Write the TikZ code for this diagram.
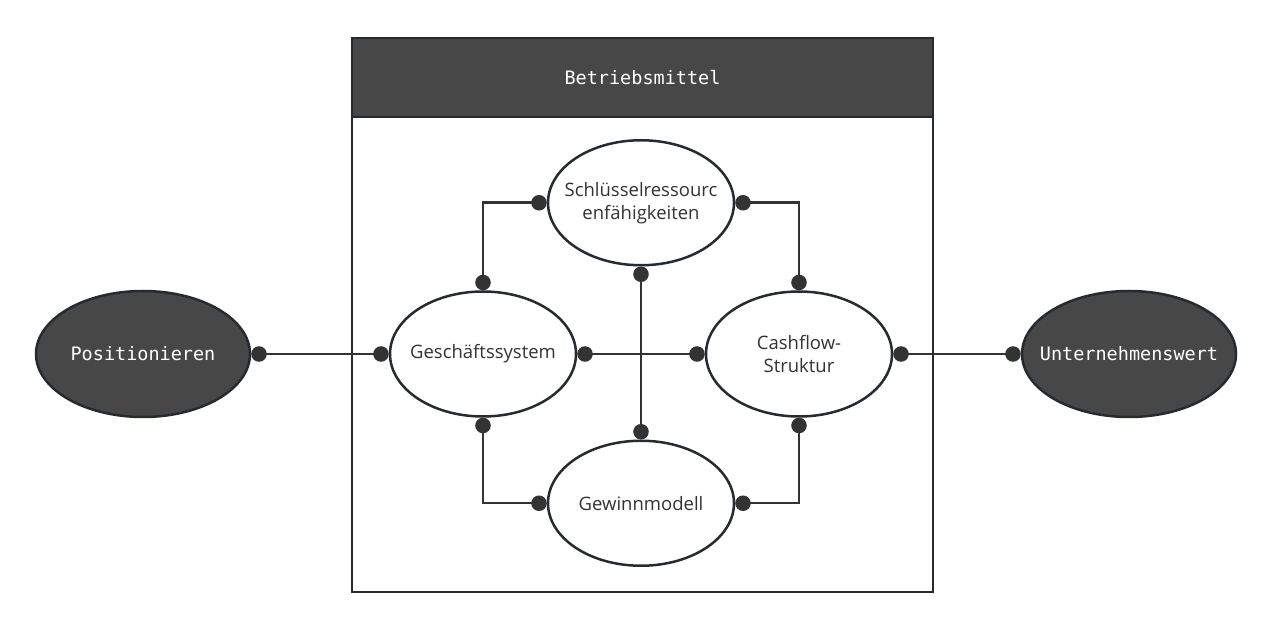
\documentclass[tikz,border=0pt]{standalone}
\usepackage{fontspec}
\setmainfont{Open Sans}
\setmonofont{DejaVu Sans Mono}
\usetikzlibrary{shapes.geometric, arrows.meta, positioning, calc}
\definecolor{nodedark}{HTML}{474747}
\definecolor{framegray}{HTML}{262B30}
\definecolor{edgeline}{HTML}{333333}
\tikzset{
    bubble/.style={ellipse, draw=framegray, line width=2.5pt, fill=white, align=center, inner xsep=-14pt, inner ysep=0pt, font=\fontsize{18.5}{23}\selectfont, text=black!80, minimum width=186pt, minimum height=125pt},
    darkbubble/.style={bubble, fill=nodedark, text=white, font=\ttfamily\fontsize{18.5}{20}\selectfont, minimum width=214pt, minimum height=126pt},
    link/.style={{Circle[length=15.5pt]}-{Circle[length=15.5pt]}, line width=2.5pt, draw=edgeline},
    frame/.style={draw=framegray, line width=2.5pt, fill=white, minimum width=581pt, minimum height=554pt, inner sep=0pt}
}

\begin{document}
\begin{tikzpicture}[
          x=1pt, y=1pt,
          node distance=127.5pt,
          header/.style={frame, fill=nodedark, minimum height=79pt, text=white, font=\ttfamily\fontsize{18.5}{20}\selectfont}
        ]
        \useasboundingbox (0,0) rectangle (1273,629);

        % container with its title bar
        \node[frame] (box) at (642.5,314) {};
        \node[header, anchor=north] (title) at (box.north) {Betriebsmittel};

        % main row
        \node[darkbubble] (pos) at (143,275) {Positionieren};
        \node[bubble, right=137.5pt of pos] (gs) {Geschäftssystem};
        \node[bubble, right=of gs] (cf) {Cashflow-\\Struktur};
        \node[darkbubble, right=of cf] (uw) {Unternehmenswert};

        % upper and lower bubbles
        \coordinate (mid) at ($(gs)!0.5!(cf)$);
        \node[bubble, above=87.5pt of mid] (sr) {Schlüsselressourc\\enfähigkeiten};
        \node[bubble, below=85.5pt of mid] (gm) {Gewinnmodell};

        \draw[link] (pos) -- (gs);
        \draw[link] (gs) -- (cf);
        \draw[link] (cf) -- (uw);
        \draw[link] (gs.north) |- (sr.west);
        \draw[link] (sr.east) -| (cf.north);
        \draw[link] (gs.south) |- (gm.west);
        \draw[link] (gm.east) -| (cf.south);
        \draw[link] (sr) -- (gm);
      \end{tikzpicture}
\end{document}
